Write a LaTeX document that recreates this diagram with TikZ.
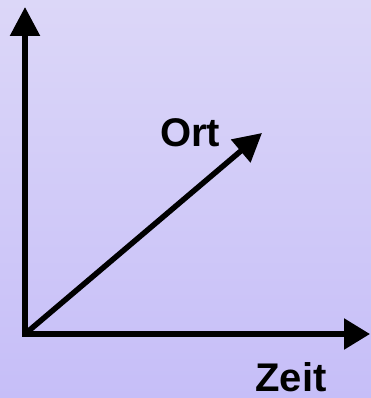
\documentclass[tikz,border=0pt]{standalone}
\usepackage{fontspec}
\setmainfont{Liberation Sans}
\usepackage{tikz}
\usetikzlibrary{arrows.meta,positioning}
\definecolor{BgTop}{HTML}{DCD7F8}
\definecolor{BgBottom}{HTML}{C6BEF8}

\tikzset{
  axis/.style={black, line width=5.5pt},
  lbl/.style={font=\fontsize{40}{44}\selectfont\bfseries, inner sep=0pt}
}

\begin{document}
\begin{tikzpicture}[x=1pt, y=-1pt]
  \shade[top color=BgTop, bottom color=BgBottom] (0,0) rectangle (371,398);
  \useasboundingbox (0,0) rectangle (371,398);
  \coordinate (origin) at (25,334);
  \coordinate (ytip) at (25,7);
  \coordinate (xtip) at (370,334);
  \coordinate (otip) at (262,133);
  \draw[axis, {Triangle[length=29pt,width=29pt]}-{Triangle[length=26pt,width=30pt]}] (ytip) -- (origin) -- (xtip);
  \draw[axis, -{Triangle[length=28pt,width=29pt]}] (origin) -- (otip);
  \node[lbl] (ort) at (190,133) {Ort};
  \node[lbl] (zeit) at (291,377) {Zeit};
\end{tikzpicture}
\end{document}
